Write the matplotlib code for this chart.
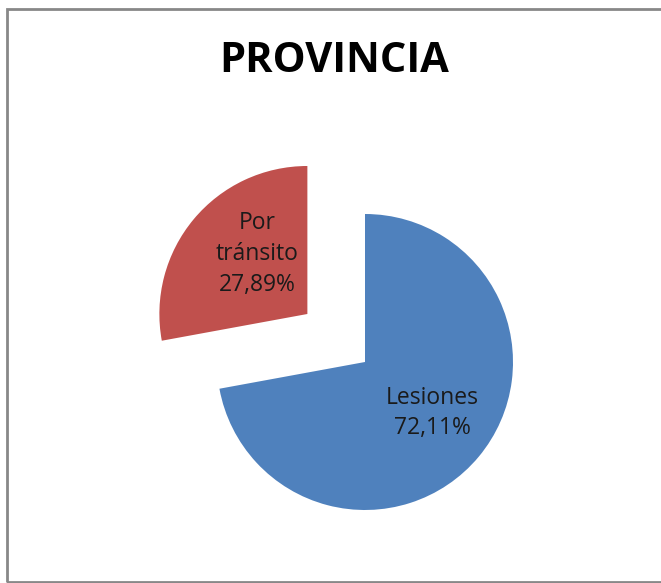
import matplotlib.pyplot as plt
from matplotlib.patches import Rectangle

labels = ["Lesiones", "Por\ntránsito"]
values = [72.11, 27.89]
colors = ["#4F81BD", "#C0504D"]
explode = [0, 75]

fig = plt.figure(figsize=(6.61, 5.83), dpi=100)
ax = fig.add_axes([0, 0, 1, 1])

ax.pie(values, colors=colors, explode=explode, startangle=90,
       counterclock=False, radius=148, center=(365, 221), normalize=True,
       wedgeprops=dict(linewidth=0))
ax.set_xlim(0, 661)
ax.set_ylim(0, 583)
ax.set_aspect("equal")
ax.axis("off")

# percent labels, comma decimals
fmt = lambda v: f"{v:.2f}%".replace(".", ",")
ax.text(432, 583 - 413, f"{labels[0]}\n{fmt(values[0])}", ha="center",
        va="center", fontsize=16.5, family="Open Sans", linespacing=1.38,
        color="#1a1a1a")
ax.text(257, 583 - 254, f"{labels[1]}\n{fmt(values[1])}", ha="center",
        va="center", fontsize=16.5, family="Open Sans", linespacing=1.38,
        color="#1a1a1a")

fig.text(334 / 661, 1 - 61 / 583, "PROVINCIA", ha="center", va="center",
         fontsize=30, fontweight="bold", family="Open Sans")

fig.patches.append(Rectangle((7 / 661, 1 / 583), 1, 573 / 583,
                             transform=fig.transFigure, fill=False,
                             edgecolor="#888888", linewidth=2))

fig.savefig("out.png", dpi=100)
